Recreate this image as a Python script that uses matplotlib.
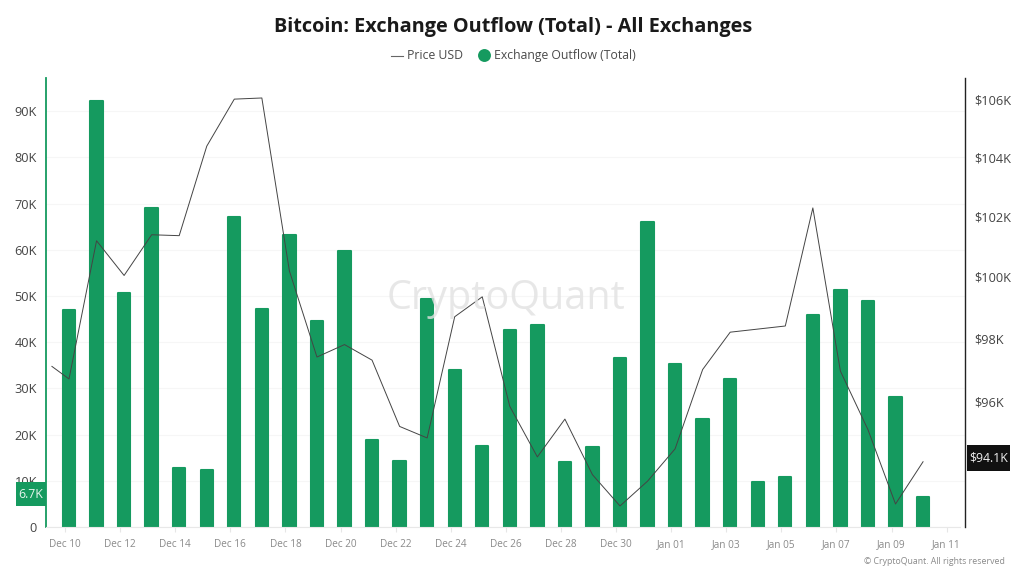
import numpy as np
import matplotlib
matplotlib.use("Agg")
import matplotlib.pyplot as plt
from matplotlib.patches import Rectangle
from matplotlib.lines import Line2D

plt.rcParams['font.family'] = ['Open Sans', 'Noto Sans', 'DejaVu Sans']

title = "Bitcoin: Exchange Outflow (Total) - All Exchanges"
outflow = [47.2, 92.4, 50.9, 69.2, 12.9, 12.5, 67.4, 47.4, 63.4, 44.8, 59.9, 19.0, 14.5, 49.5, 34.2, 17.8,
           42.8, 44.0, 14.2, 17.6, 36.8, 66.2, 35.4, 23.6, 32.2, 9.9, 11.1, 46.0, 51.4, 49.2, 28.4, 6.7]
price = [97.1, 96.7, 101.2, 100.05, 101.4, 101.37, 104.4, 106.03, 106.07, 100.2, 97.4, 97.8, 97.3, 95.2, 94.84,
         98.7, 99.35, 95.83, 94.25, 95.43, 93.7, 92.74, 93.5, 94.5, 97.0, 98.2, 98.3, 98.4, 102.3, 96.95, 95.1,
         92.8, 94.1]
price_start_offset = -0.62
date_labels = ["Dec 10", "Dec 12", "Dec 14", "Dec 16", "Dec 18", "Dec 20", "Dec 22", "Dec 24", "Dec 26", "Dec 28",
               "Dec 30", "Jan 01", "Jan 03", "Jan 05", "Jan 07", "Jan 09", "Jan 11"]
left_ticks = [0, 10, 20, 30, 40, 50, 60, 70, 80, 90]
right_ticks = [96, 98, 100, 102, 104, 106]

GREEN = "#159a5f"
W, H = 1024, 578
fig = plt.figure(figsize=(W / 100, H / 100), dpi=100, facecolor="white")
L, R, T, B = 46, 965, 78, 527
ax = fig.add_axes([L / W, 1 - B / H, (R - L) / W, (B - T) / H])

days = np.arange(len(outflow))
px_day = 27.55
x0 = 69
ax.set_xlim((L - x0) / px_day, (R - x0) / px_day)
ax.set_ylim(0, (B - T) / 4.62)

# thin same-colour round-joined edge gives the slightly rounded bar tops
bars = ax.bar(days, outflow, bottom=-0.2, width=0.45, color=GREEN, edgecolor=GREEN, linewidth=1.5, zorder=2)
for b in bars:
    b.set_joinstyle('round')

ax.set_yticks(left_ticks)
ax.set_yticklabels(["0"] + [f"{v}K" for v in left_ticks[1:]], fontsize=9.2, color="#444444")
ax.tick_params(axis='y', length=0, pad=6.5)
tick_pos = np.arange(0, 2 * len(date_labels), 2) - 4 / px_day
ax.set_xticks(tick_pos)
ax.set_xticklabels(date_labels, fontsize=7.2, color="#8a8a8a")
ax.tick_params(axis='x', length=3.5, color="#e6e6e6", width=0.8, pad=5)
ax.grid(axis='y', color="#f6f6f6", linewidth=0.8, zorder=0)
ax.set_axisbelow(True)
for s in ['top', 'right']:
    ax.spines[s].set_visible(False)
ax.spines['left'].set_color(GREEN)
ax.spines['left'].set_linewidth(1.3)
ax.spines['bottom'].set_color("#e8e8e8")
ax.spines['bottom'].set_linewidth(0.8)
ax.spines['bottom'].set_bounds(ax.get_xlim()[0], ax.get_xlim()[1] - 5 / px_day)

ax2 = ax.twinx()
ax2.set_yscale('log')
ax2.set_ylim(92.1, 106.77)
ax2.set_xlim(ax.get_xlim())
px = np.concatenate([[price_start_offset], days])
ax2.plot(px, price, color="#444444", linewidth=0.7, zorder=5)
ax2.set_yticks(right_ticks)
ax2.set_yticklabels([f"${v}K" for v in right_ticks], fontsize=9.2, color="#444444")
ax2.minorticks_off()
ax2.tick_params(axis='y', which='both', length=0, pad=7)
for s in ['top', 'left', 'bottom']:
    ax2.spines[s].set_visible(False)
ax2.spines['right'].set_color("#222222")
ax2.spines['right'].set_linewidth(1.0)

# watermark
fig.text(506 / W, 1 - 299 / H, "CryptoQuant", fontsize=28.5, color="#e2e2e2", ha='center', va='center',
         zorder=3, alpha=0.8)

# current value badges
fig.add_artist(Rectangle((16 / W, 1 - 506 / H), 30 / W, 24 / H, transform=fig.transFigure, fc=GREEN, ec='none', zorder=20))
fig.text(31 / W, 1 - 494.5 / H, f"{outflow[-1]}K", fontsize=8.8, color="#e8f5ee", ha='center', va='center', zorder=21)
fig.add_artist(Rectangle((967 / W, 1 - 471 / H), 43 / W, 26 / H, transform=fig.transFigure, fc="#111111", ec='none', zorder=20))
fig.text(988.5 / W, 1 - 458 / H, f"${price[-1]}K", fontsize=8.8, color="#f0f0f0", ha='center', va='center', zorder=21)

fig.text(513 / W, 1 - 27 / H, title, fontsize=14.3, fontweight='bold', color="#1a1a1a", ha='center', va='center')
fig.add_artist(Line2D([391 / W, 403 / W], [1 - 56 / H] * 2, color="#666666", lw=0.8))
fig.text(407 / W, 1 - 55.5 / H, "Price USD", fontsize=8.8, color="#4a4a4a", ha='left', va='center')
fig.add_artist(Line2D([484 / W], [1 - 55 / H], marker='o', ms=9.3, color=GREEN, mew=0))
fig.text(494 / W, 1 - 55.5 / H, "Exchange Outflow (Total)", fontsize=8.8, color="#4a4a4a", ha='left', va='center')
fig.text(1005 / W, 1 - 562 / H, "© CryptoQuant. All rights reserved", fontsize=6.3, color="#8a8a8a", ha='right', va='center')

fig.savefig("out.png", dpi=100, facecolor="white")
